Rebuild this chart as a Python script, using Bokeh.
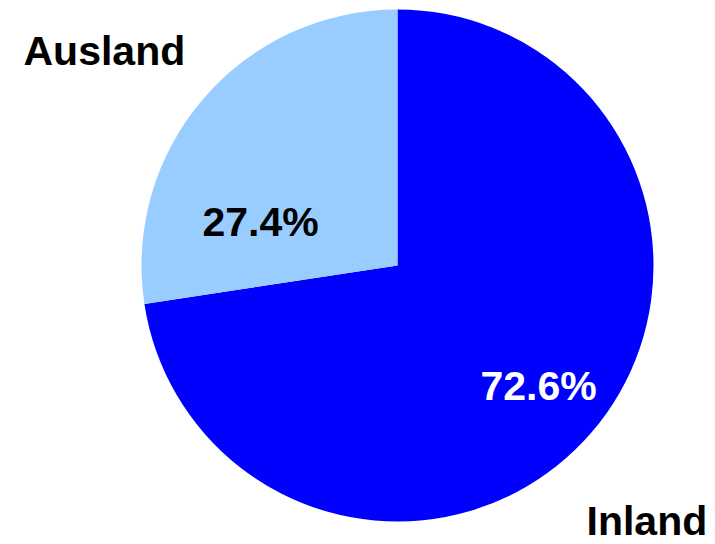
import numpy as np
from bokeh.plotting import figure
from bokeh.models import Range1d, ColumnDataSource
from bokeh.core.properties import value
from bokeh.embed import file_html
from bokeh.resources import INLINE

categories = ["Inland", "Ausland"]
shares = [72.6, 27.4]
colors = ["#0000FF", "#99CCFF"]
pct_labels = ["72.6%", "27.4%"]

W, H = 715, 544
p = figure(width=W, height=H, output_backend="svg", toolbar_location=None,
           x_range=Range1d(0, W), y_range=Range1d(0, H), min_border=0)
p.axis.visible = False
p.grid.visible = False
p.outline_line_color = None
p.background_fill_color = "white"
p.border_fill_color = "white"

cx, cy, R = 397, 279, 256
vals = np.array(shares)
frac = vals / vals.sum()
# Inland clockwise from 12 o'clock, Ausland fills the rest
a0 = np.pi / 2
starts = [a0 - 2 * np.pi * frac[0], a0]
ends = [a0, a0 + 2 * np.pi * frac[1]]
src = ColumnDataSource(dict(start=starts, end=ends, color=colors, cat=categories))
p.wedge(x=cx, y=cy, radius=R, start_angle="start", end_angle="end",
        fill_color="color", line_color=None, source=src)

font = value("Liberation Sans")
# percentage labels
p.text(x=[480, 202], y=[159, 323], text=pct_labels, text_color=["white", "black"],
       text_font=font, text_font_style="bold", text_font_size="41px",
       text_align="left", text_baseline="alphabetic")
# category labels
p.text(x=[586, 23], y=[24, 494], text=categories, text_color="black",
       text_font=font, text_font_style="bold", text_font_size="41px",
       text_align="left", text_baseline="alphabetic")

open("out.html", "w").write(file_html(p, INLINE))
